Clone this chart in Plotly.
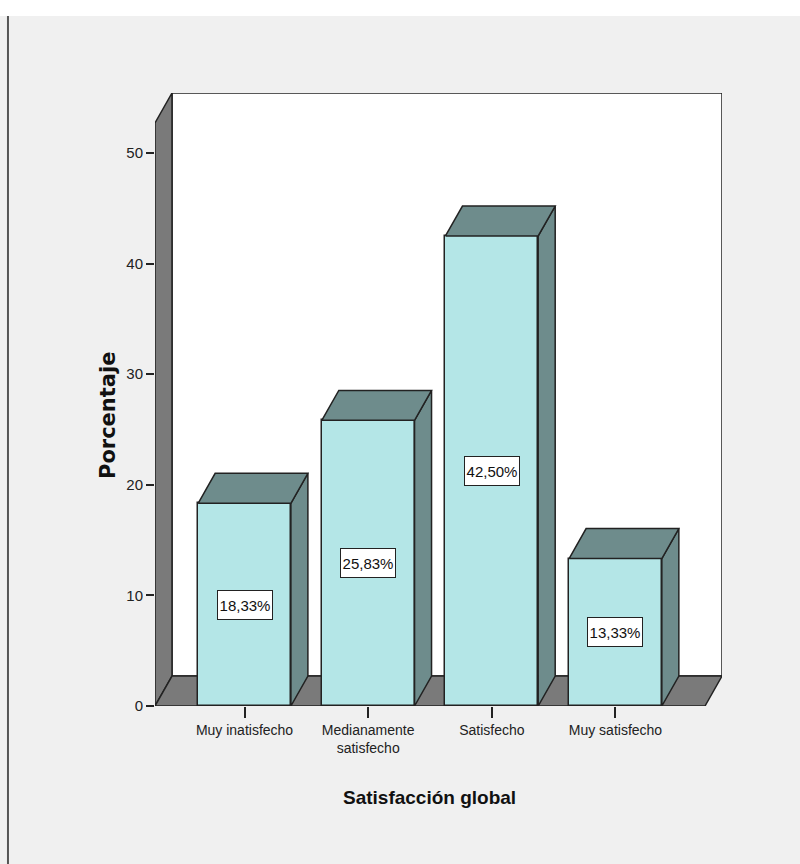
import plotly.graph_objects as go

# Satisfacción global (porcentaje de encuestados)
categories = ["Muy inatisfecho", "Medianamente<br>satisfecho", "Satisfecho", "Muy satisfecho"]
percentages = [18.33, 25.83, 42.50, 13.33]
value_labels = ["18,33%", "25,83%", "42,50%", "13,33%"]
y_ticks = [0, 10, 20, 30, 40, 50]

# Fake-3D geometry (data units)
BAR_W = 0.75          # bar width in category units
DX = 0.1375           # depth offset along x
DY = 2.71             # depth offset along y
X0, X1 = -0.724, 3.724
Y_TOP = 55.43

FRONT = "#B4E6E7"
SHADE = "#6E8C8C"
WALL = "#7A7A7A"
EDGE = "#222222"
SANS = "Liberation Sans, Arial, sans-serif"

x_idx = list(range(len(categories)))

fig = go.Figure()

# Front faces of the bars
fig.add_trace(go.Bar(
    x=x_idx, y=percentages, width=BAR_W,
    marker=dict(color=FRONT, line=dict(color=EDGE, width=1.5)),
    hoverinfo="skip", showlegend=False,
))

# Top and right-side faces of each bar
for xi, v in zip(x_idx, percentages):
    xl, xr = xi - BAR_W / 2, xi + BAR_W / 2
    side_x = [xr, xr + DX, xr + DX, xr, xr]
    side_y = [0, DY, v + DY, v, 0]
    top_x = [xl, xr, xr + DX, xl + DX, xl]
    top_y = [v, v, v + DY, v + DY, v]
    for px, py in ((side_x, side_y), (top_x, top_y)):
        fig.add_trace(go.Scatter(
            x=px, y=py, mode="lines", fill="toself", fillcolor=SHADE,
            line=dict(color=EDGE, width=1.5), hoverinfo="skip", showlegend=False,
        ))

shapes = [
    # page background strip and frame line
    dict(type="rect", xref="paper", yref="paper", x0=-0.5, x1=1.5, y0=1.1256, y1=1.3,
         fillcolor="white", line=dict(width=0), layer="above"),
    dict(type="line", xref="paper", yref="paper", x0=-0.2593, x1=-0.2593, y0=-0.3, y1=1.1256,
         line=dict(color="#555555", width=2), layer="above"),
    # back wall
    dict(type="rect", xref="x", yref="y", x0=X0 + DX, x1=X1 + DX, y0=DY, y1=Y_TOP,
         fillcolor="white", line=dict(color=EDGE, width=1.5), layer="below"),
    # left wall
    dict(type="path", xref="x", yref="y",
         path=f"M{X0},0 L{X0 + DX},{DY} L{X0 + DX},{Y_TOP} L{X0},{Y_TOP - DY} Z",
         fillcolor=WALL, line=dict(color=EDGE, width=1.5), layer="below"),
    # floor
    dict(type="path", xref="x", yref="y",
         path=f"M{X0},0 L{X1},0 L{X1 + DX},{DY} L{X0 + DX},{DY} Z",
         fillcolor=WALL, line=dict(color=EDGE, width=1.5), layer="below"),
]

annotations = [
    dict(x=xi, y=v / 2, xref="x", yref="y", text=t, showarrow=False,
         xanchor="center", yanchor="middle", width=52, height=26,
         font=dict(family=SANS, size=15, color="#111111"),
         bgcolor="white", bordercolor=EDGE, borderwidth=1, borderpad=1)
    for xi, v, t in zip(x_idx, percentages, value_labels)
]
annotations += [
    dict(x=-0.0829, y=0.4747, xref="paper", yref="paper", text="<b>Porcentaje</b>",
         textangle=-90, showarrow=False, xanchor="center", yanchor="middle",
         font=dict(family="DejaVu Sans, Arial, sans-serif", size=21, color="#111111")),
    dict(x=0.485, y=-0.1485, xref="paper", yref="paper", text="<b>Satisfacción global</b>",
         showarrow=False, xanchor="center", yanchor="middle",
         font=dict(family=SANS, size=19, color="#111111")),
]

fig.update_layout(
    width=800, height=864,
    margin=dict(l=155, r=78, t=93, b=158),
    paper_bgcolor="#F0F0F0",
    plot_bgcolor="rgba(0,0,0,0)",
    shapes=shapes,
    annotations=annotations,
    bargap=0,
    xaxis=dict(
        range=[X0, X1 + DX], tickvals=x_idx, ticktext=categories,
        showgrid=False, zeroline=False, showline=False,
        ticks="outside", ticklen=11, tickwidth=1.5, tickcolor=EDGE,
        tickfont=dict(family=SANS, size=14, color="#222222"),
        fixedrange=True,
    ),
    yaxis=dict(
        range=[0, Y_TOP], tickvals=y_ticks,
        showgrid=False, zeroline=False, showline=False,
        ticks="outside", ticklen=8, tickwidth=1.5, tickcolor=EDGE,
        tickfont=dict(family=SANS, size=15, color="#222222"),
        fixedrange=True,
    ),
)

fig.write_html("out.html")
